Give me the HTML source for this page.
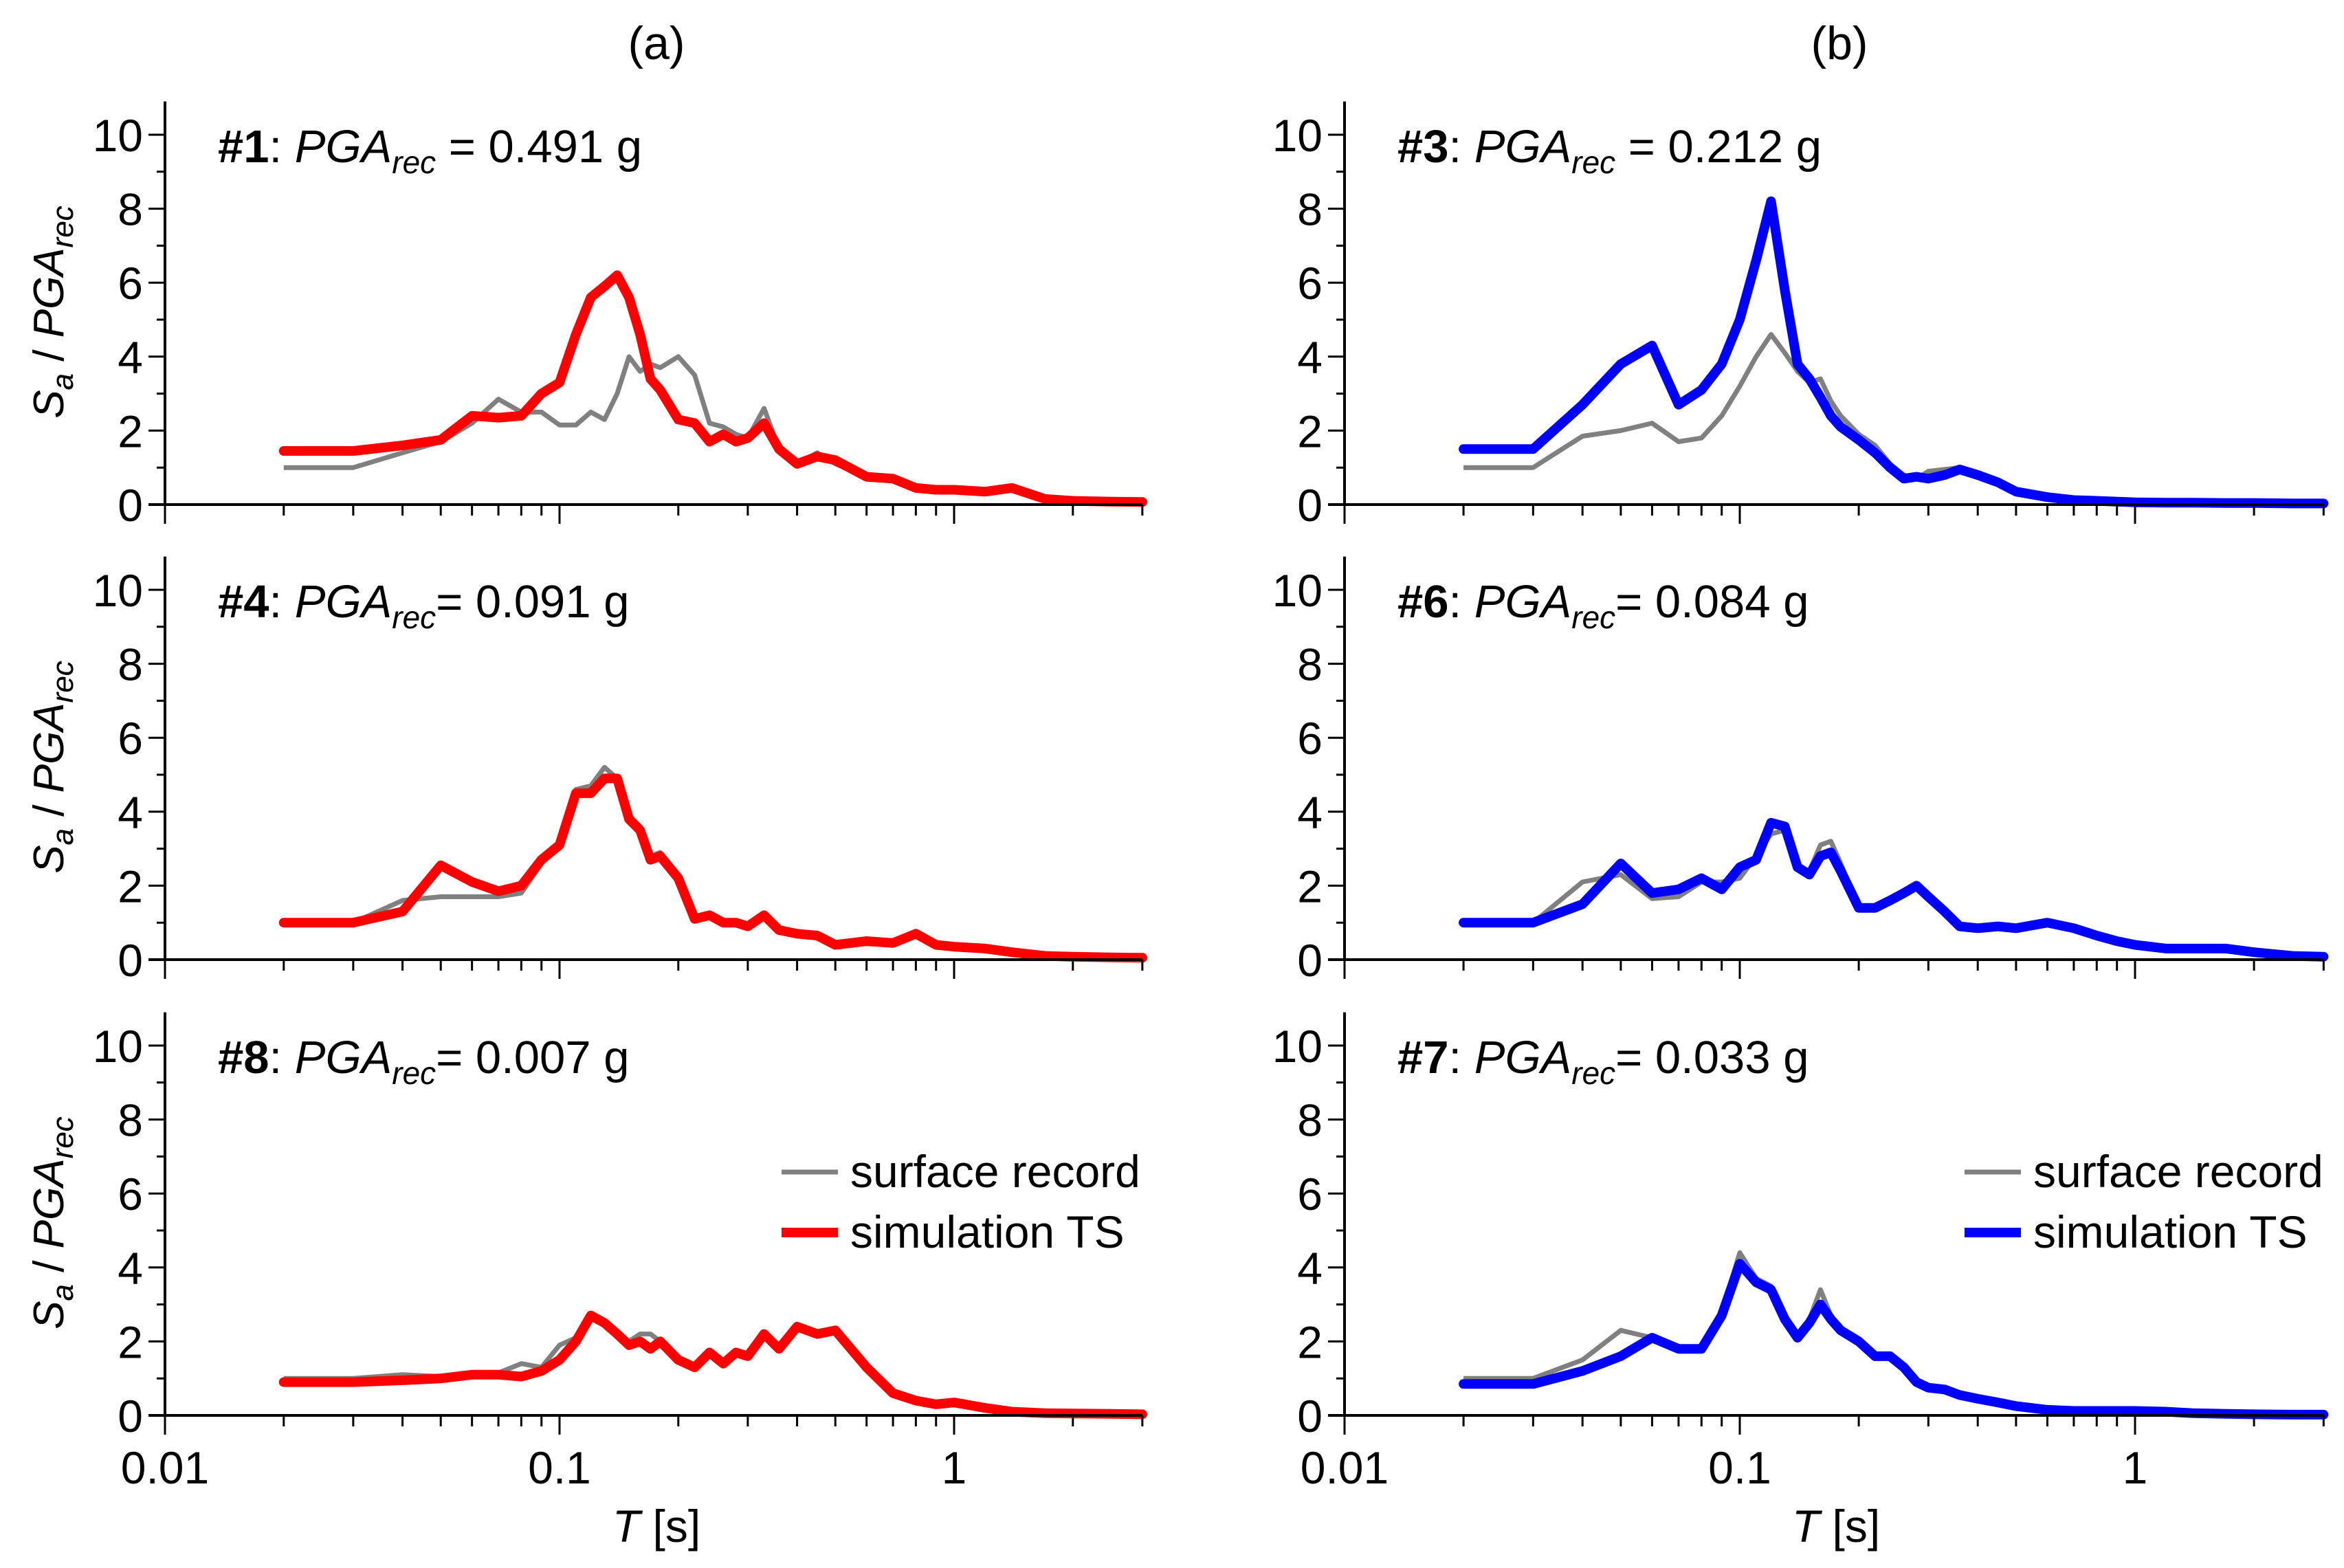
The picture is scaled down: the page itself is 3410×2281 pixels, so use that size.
<!DOCTYPE html>
<html><head><meta charset="utf-8"><style>
html,body{margin:0;padding:0;background:#fff}
svg{display:block}
text{font-family:"Liberation Sans",sans-serif;fill:#000}
</style></head><body>
<svg id="chart" width="3410" height="2281" viewBox="0 0 3410 2281" xmlns="http://www.w3.org/2000/svg"></svg>
<script>
const periods=[0.02,0.03,0.04,0.05,0.06,0.07,0.08,0.09,0.1,0.11,0.12,0.13,0.14,0.15,0.16,0.17,0.18,0.2,0.22,0.24,0.26,0.28,0.3,0.33,0.36,0.4,0.45,0.5,0.6,0.7,0.8,0.9,1,1.2,1.4,1.7,2,2.5,3];
const rec1=[1.0,1.0,1.4,1.7,2.2,2.85,2.5,2.5,2.15,2.15,2.5,2.3,3.0,4.0,3.6,3.8,3.7,4.0,3.5,2.2,2.1,1.9,1.8,2.6,1.5,1.1,1.4,1.1,0.75,0.7,0.45,0.4,0.4,0.35,0.45,0.15,0.1,0.08,0.07];
const sim1=[1.45,1.45,1.6,1.75,2.4,2.35,2.4,3.0,3.3,4.6,5.6,5.9,6.2,5.6,4.6,3.4,3.1,2.3,2.2,1.7,1.9,1.7,1.8,2.2,1.5,1.1,1.3,1.2,0.75,0.7,0.45,0.4,0.4,0.35,0.45,0.15,0.1,0.08,0.07];
const rec4=[1.0,1.0,1.6,1.7,1.7,1.7,1.8,2.6,3.2,4.6,4.7,5.2,4.9,3.9,3.6,2.8,2.9,2.3,1.1,1.2,1.0,1.0,0.9,1.2,0.8,0.7,0.65,0.4,0.5,0.45,0.7,0.4,0.35,0.3,0.2,0.1,0.08,0.06,0.05];
const sim4=[1.0,1.0,1.3,2.55,2.1,1.85,2.0,2.7,3.1,4.5,4.5,4.9,4.9,3.8,3.5,2.7,2.8,2.2,1.1,1.2,1.0,1.0,0.9,1.2,0.8,0.7,0.65,0.4,0.5,0.45,0.7,0.4,0.35,0.3,0.2,0.1,0.08,0.06,0.05];
const rec8=[1.0,1.0,1.1,1.05,1.1,1.15,1.4,1.3,1.9,2.1,2.6,2.5,2.2,2.0,2.2,2.2,2.0,1.5,1.3,1.7,1.4,1.7,1.6,2.2,1.8,2.4,2.2,2.3,1.3,0.6,0.4,0.3,0.35,0.2,0.1,0.06,0.05,0.04,0.03];
const sim8=[0.9,0.9,0.95,1.0,1.1,1.1,1.05,1.2,1.5,2.0,2.7,2.5,2.2,1.9,2.0,1.8,2.0,1.5,1.3,1.7,1.4,1.7,1.6,2.2,1.8,2.4,2.2,2.3,1.3,0.6,0.4,0.3,0.35,0.2,0.1,0.06,0.05,0.04,0.03];
const rec3=[1.0,1.0,1.85,2.0,2.2,1.7,1.8,2.4,3.2,4.0,4.6,4.1,3.6,3.3,3.4,2.8,2.4,1.9,1.6,1.1,0.8,0.7,0.9,0.95,1.0,0.8,0.6,0.35,0.2,0.12,0.1,0.08,0.06,0.05,0.05,0.04,0.04,0.03,0.03];
const sim3=[1.5,1.5,2.7,3.8,4.3,2.7,3.1,3.8,5.0,6.6,8.2,5.8,3.8,3.4,2.9,2.4,2.1,1.75,1.4,1.0,0.7,0.75,0.7,0.8,0.95,0.8,0.6,0.35,0.2,0.12,0.1,0.08,0.06,0.05,0.05,0.04,0.04,0.03,0.03];
const rec6=[1.0,1.0,2.1,2.3,1.65,1.7,2.1,2.1,2.2,2.8,3.4,3.5,2.5,2.4,3.1,3.2,2.6,1.4,1.4,1.6,1.8,2.0,1.7,1.3,0.9,0.85,0.9,0.85,1.0,0.85,0.65,0.5,0.4,0.3,0.3,0.3,0.2,0.1,0.08];
const sim6=[1.0,1.0,1.5,2.6,1.8,1.9,2.2,1.9,2.5,2.7,3.7,3.6,2.5,2.3,2.8,2.9,2.4,1.4,1.4,1.6,1.8,2.0,1.7,1.3,0.9,0.85,0.9,0.85,1.0,0.85,0.65,0.5,0.4,0.3,0.3,0.3,0.2,0.1,0.08];
const rec7=[1.0,1.0,1.5,2.3,2.1,1.8,1.8,2.8,4.4,3.7,3.5,2.7,2.2,2.6,3.4,2.7,2.3,2.0,1.6,1.6,1.3,0.9,0.75,0.7,0.55,0.45,0.35,0.25,0.15,0.12,0.12,0.12,0.12,0.1,0.06,0.04,0.03,0.02,0.02];
const sim7=[0.85,0.85,1.2,1.6,2.1,1.8,1.8,2.7,4.1,3.6,3.4,2.6,2.1,2.5,3.0,2.6,2.3,2.0,1.6,1.6,1.3,0.9,0.75,0.7,0.55,0.45,0.35,0.25,0.15,0.12,0.12,0.12,0.12,0.1,0.06,0.04,0.03,0.02,0.02];
const yTicks=[0,2,4,6,8,10];
const xTickLabels=["0.01","0.1","1"];
const panelIds=["1","4","8","3","6","7"];
const panelPGA=["0.491","0.091","0.007","0.212","0.084","0.033"];

const svg=document.getElementById('chart');
const NS='http://www.w3.org/2000/svg';
function mk(tag,attrs,parent){const e=document.createElementNS(NS,tag);for(const k in attrs)e.setAttribute(k,attrs[k]);(parent||svg).appendChild(e);return e;}
const colX0=[240,1956], decade=[574,575], rowZero=[734,1396,2059], unit=53.8;
const XMAX=3;
function xs(c,t){return colX0[c]+(Math.log10(t)+2)*decade[c];}
function ys(r,v){return rowZero[r]-v*unit;}

const panels=[[0,0,rec1,sim1,'#ff0000'],[0,1,rec4,sim4,'#ff0000'],[0,2,rec8,sim8,'#ff0000'],[1,0,rec3,sim3,'#0000ff'],[1,1,rec6,sim6,'#0000ff'],[1,2,rec7,sim7,'#0000ff']];

let t=mk('text',{x:955,y:86,'font-size':68,'text-anchor':'middle'});t.textContent='(a)';


t=mk('text',{x:2676,y:86,'font-size':68,'text-anchor':'middle'});t.textContent='(b)';



panels.forEach((p,i)=>{
  const [c,r,rec,sim,col]=p;
  const g=mk('g',{});
  
  
  const x0=colX0[c], x1=xs(c,XMAX), z=rowZero[r];
  const d=a=>a.map((v,k)=>(k?'L':'M')+xs(c,periods[k]).toFixed(1)+','+ys(r,v).toFixed(1)).join('');
  let pl=mk('path',{d:d(rec),fill:'none',stroke:'#808080','stroke-width':7,'stroke-linejoin':'round'},g);
  
  
  pl=mk('path',{d:d(sim),fill:'none',stroke:col,'stroke-width':14,'stroke-linejoin':'round','stroke-linecap':'round'},g);
  
  
  let ax=mk('path',{d:`M${x0},${ys(r,10.9)}V${z}`,stroke:'#000','stroke-width':4,fill:'none'},g);
  
  
  ax=mk('path',{d:`M${x0-24},${z}H${x1}`,stroke:'#000','stroke-width':4,fill:'none'},g);
  
  
  let tk='';
  for(let v=0;v<=10;v++){const y=ys(r,v);tk+=`M${x0-(v%2?12:24)},${y}H${x0}`;}
  for(let e=-2;e<=0;e++)for(let m=1;m<=9;m++){const tv=m*Math.pow(10,e);if(tv>XMAX+1e-9)continue;const x=xs(c,tv);tk+=`M${x},${z}V${z+(m===1?28:16)}`;}
  mk('path',{d:tk,stroke:'#000','stroke-width':3,fill:'none'},g);
  yTicks.forEach(v=>{const tx=mk('text',{x:x0-32,y:ys(r,v)+24,'font-size':66,'text-anchor':'end'},g);tx.textContent=v;
    
    });
  const yl=mk('text',{transform:`translate(92,${z-280}) rotate(-90)`,'font-size':62,'text-anchor':'middle'},g);
  
  
  yl.innerHTML='<tspan font-style="italic">S</tspan><tspan font-style="italic" font-size="44" dy="14">a</tspan><tspan dy="-14"> / </tspan><tspan font-style="italic">PGA</tspan><tspan font-style="italic" font-size="44" dy="14">rec</tspan>';
  const an=mk('text',{x:x0+77,y:z-498,'font-size':67},g);
  
  
  const sp=r===0?' ':'';
  an.innerHTML=`<tspan font-weight="bold">#${panelIds[i]}</tspan>: <tspan font-style="italic">PGA</tspan><tspan font-style="italic" font-size="46" dy="16">rec</tspan><tspan dy="-16">${sp}= ${panelPGA[i]} g</tspan>`;
  if(r===2){
    xTickLabels.forEach((lb,k)=>{const tx=mk('text',{x:xs(c,Math.pow(10,k-2)),y:2158,'font-size':66,'text-anchor':'middle'},g);tx.textContent=lb;
      
      });
    const xl=mk('text',{x:x0+715,y:2243,'font-size':66,'text-anchor':'middle'},g);
    xl.innerHTML='<tspan font-style="italic">T</tspan> [s]';
    
    
    const lx=c===0?1137:2858;
    const lg=mk('g',{},g);
    
    
    mk('line',{x1:lx,x2:lx+82,y1:1705,y2:1705,stroke:'#808080','stroke-width':7},lg);
    mk('line',{x1:lx,x2:lx+82,y1:1793,y2:1793,stroke:col,'stroke-width':14},lg);
    let lt=mk('text',{x:lx+100,y:1727,'font-size':66},lg);lt.textContent='surface record';
    
    
    lt=mk('text',{x:lx+100,y:1815,'font-size':66},lg);lt.textContent='simulation TS';
    
    
  }
});
</script>
</body></html>
